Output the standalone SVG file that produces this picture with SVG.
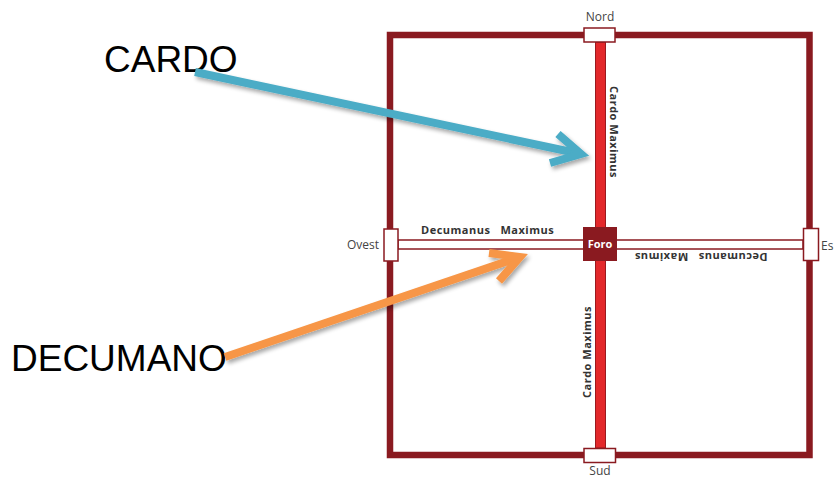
<svg xmlns="http://www.w3.org/2000/svg" width="834" height="479" viewBox="0 0 834 479">
<style>
.wall{fill:none;stroke:#8a1a20;stroke-width:6.5}
.gate{fill:#fff;stroke:#8a1a20;stroke-width:1.5}
.lbl{font-family:"Open Sans","Noto Sans",sans-serif;font-size:12px;fill:#444}
.road{font-family:"Open Sans","Noto Sans",sans-serif;font-size:11px;font-weight:bold;fill:#333;white-space:pre;letter-spacing:0.5px}
.big{font-family:"Liberation Sans",Arial,sans-serif;font-size:37px;fill:#000}
.arr{fill:none;stroke-width:8;stroke-linecap:butt;stroke-linejoin:miter}
</style>
<defs>
<filter id="sh" x="-10%" y="-30%" width="120%" height="160%">
<feGaussianBlur in="SourceAlpha" stdDeviation="2"/>
<feOffset dx="2" dy="3" result="b"/>
<feComponentTransfer><feFuncA type="linear" slope="0.35"/></feComponentTransfer>
<feMerge><feMergeNode/><feMergeNode in="SourceGraphic"/></feMerge>
</filter>
</defs>
<rect width="834" height="479" fill="#fff"/>
<g id="walls">
<rect class="wall" x="390" y="35" width="419.5" height="420"/>
</g>
<g id="decumanus">
<rect x="398" y="240" width="405" height="9" fill="#fff" stroke="#8a1a20" stroke-width="1.5"/>
<text class="road" x="421" y="234">Decumanus   Maximus</text>
<text class="road" transform="rotate(180 701 257)" x="701" y="261" text-anchor="middle">Decumanus   Maximus</text>
</g>
<g id="cardo">
<rect x="595.5" y="42" width="10" height="406" fill="#e3282b" stroke="#9a1a1f" stroke-width="1"/>
<text class="road" transform="rotate(90 614 132)" x="614" y="136" text-anchor="middle">Cardo Maximus</text>
<text class="road" transform="rotate(-90 587 352)" x="587" y="356" text-anchor="middle">Cardo Maximus</text>
</g>
<g id="nord">
<rect class="gate" x="584" y="28" width="31" height="14"/>
<text class="lbl" x="600" y="21" text-anchor="middle">Nord</text>
</g>
<g id="sud">
<rect class="gate" x="584" y="448.5" width="31.5" height="14"/>
<text class="lbl" x="600" y="475" text-anchor="middle">Sud</text>
</g>
<g id="ovest">
<rect class="gate" x="384" y="229" width="14" height="32"/>
<text class="lbl" x="379" y="249" text-anchor="end">Ovest</text>
</g>
<g id="est">
<rect class="gate" x="803.5" y="228.5" width="15" height="32"/>
<text class="lbl" x="821" y="250">Es</text>
</g>
<g id="foro">
<rect x="583" y="227" width="34" height="34" fill="#8a1a20"/>
<text x="600" y="248" text-anchor="middle" font-family="'Open Sans','Noto Sans',sans-serif" font-size="11" font-weight="bold" fill="#fff">Foro</text>
</g>
<g id="cardo-label">
<text class="big" x="104" y="72">CARDO</text>
</g>
<g id="decumano-label">
<text class="big" x="11" y="371">DECUMANO</text>
</g>
<g id="connectors">
<g filter="url(#sh)">
<path class="arr" stroke="#4bacc6" d="M195 72 L581 154"/>
<path class="arr" stroke="#4bacc6" d="M558 134 L581 154 L550 163"/>
</g>
<g filter="url(#sh)">
<path class="arr" stroke="#f79646" d="M225 357 L520 257"/>
<path class="arr" stroke="#f79646" d="M489 253 L520 257 L499 281"/>
</g>
</g>
</svg>
